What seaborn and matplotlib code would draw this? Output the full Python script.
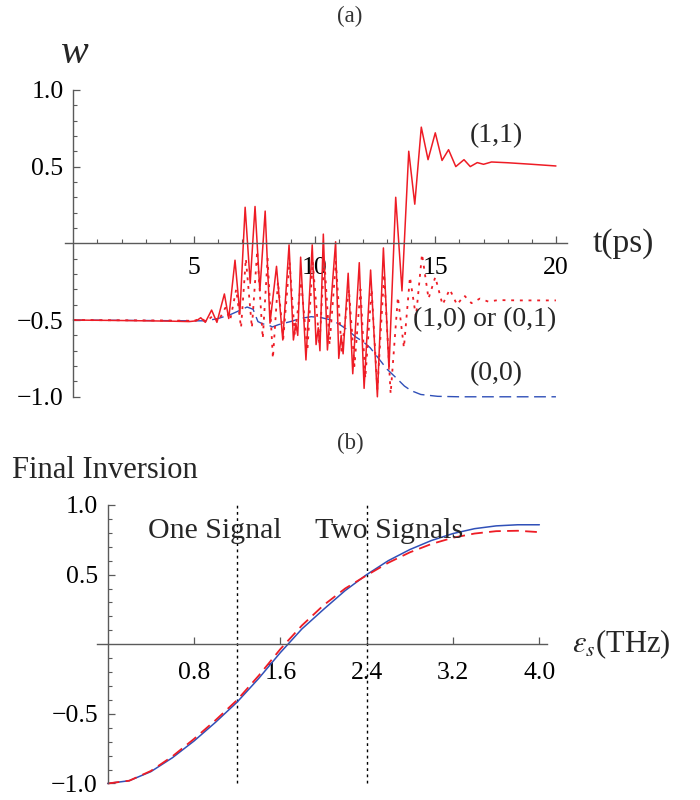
import matplotlib
matplotlib.use("Agg")
import matplotlib.pyplot as plt
import seaborn as sns
from matplotlib.ticker import FixedLocator, FixedFormatter

# ---------------- panel (a): inversion w(t) for each initial signal ----------------
t_11 = [0, 2, 4, 4.8, 5.1, 5.28, 5.47, 5.73, 5.95, 6.26, 6.44, 6.7, 6.9, 7.12, 7.33,
        7.53, 7.73, 7.95, 8.15, 8.42, 8.68, 8.94, 9.12, 9.22, 9.3, 9.42, 9.64, 9.9,
        10.06, 10.15, 10.22, 10.36, 10.53, 10.87, 11.0, 11.1, 11.18, 11.39, 11.58,
        11.85, 12.05, 12.32, 12.6, 12.85, 13.08, 13.36, 13.62, 13.9, 14.15, 14.42,
        14.7, 15.0, 15.28, 15.55, 15.85, 16.19, 16.45, 16.74, 17.0, 17.33, 18.0,
        19.0, 20.0]
w_11 = [-0.5, -0.503, -0.507, -0.51, -0.505, -0.485, -0.515, -0.435, -0.515, -0.33,
        -0.49, -0.11, -0.46, 0.235, -0.26, 0.24, -0.31, 0.21, -0.52, -0.15, -0.63,
        -0.01, -0.63, -0.52, -0.6, -0.09, -0.76, -0.01, -0.66, -0.55, -0.7, 0.06,
        -0.695, 0.01, -0.75, -0.6, -0.72, -0.195, -0.85, -0.126, -0.945, -0.174,
        -1.0, -0.03, -0.82, 0.30, -0.31, 0.60, 0.255, 0.757, 0.545, 0.72, 0.54,
        0.61, 0.50, 0.545, 0.50, 0.526, 0.515, 0.53, 0.525, 0.515, 0.504]

t_10 = [0, 4, 5.0, 5.3, 5.5, 5.8, 6.0, 6.3, 6.5, 6.75, 6.95, 7.15, 7.4, 7.62, 7.85,
        8.05, 8.27, 8.48, 8.7, 8.96, 9.18, 9.44, 9.7, 9.92, 10.2, 10.4, 10.62, 10.88,
        11.12, 11.42, 11.65, 11.9, 12.1, 12.36, 12.6, 12.88, 13.15, 13.45, 13.7,
        13.95, 14.2, 14.45, 14.72, 15.0, 15.3, 15.6, 15.9, 16.2, 16.5, 16.85, 17.2,
        17.6, 18.5, 20.0]
w_10 = [-0.5, -0.503, -0.505, -0.49, -0.51, -0.47, -0.51, -0.42, -0.50, -0.30, -0.55,
        -0.1, -0.55, -0.05, -0.62, -0.1, -0.75, -0.25, -0.62, -0.12, -0.6, -0.25,
        -0.7, -0.12, -0.66, -0.1, -0.66, -0.12, -0.7, -0.3, -0.8, -0.3, -0.88, -0.3,
        -0.95, -0.2, -0.98, -0.35, -0.68, -0.22, -0.48, -0.07, -0.36, -0.22, -0.40,
        -0.30, -0.40, -0.34, -0.39, -0.36, -0.38, -0.37, -0.372, -0.372]

t_00 = [0, 5.0, 5.5, 6.0, 6.5, 7.0, 7.2, 7.45, 7.65, 7.85, 8.05, 8.25, 8.5, 9.0, 9.4,
        9.86, 10.3, 10.7, 11.0, 11.37, 11.7, 12.0, 12.3, 12.6, 13.0, 13.4, 13.72,
        14.0, 14.4, 15.1, 16.0, 20.0]
w_00 = [-0.5, -0.505, -0.505, -0.49, -0.465, -0.43, -0.415, -0.43, -0.51, -0.525,
        -0.53, -0.545, -0.53, -0.51, -0.49, -0.478, -0.485, -0.50, -0.525, -0.565,
        -0.61, -0.64, -0.68, -0.74, -0.82, -0.88, -0.93, -0.96, -0.985, -0.997,
        -1.0, -1.0]

top_xticks = [5, 10, 15, 20]
top_yticks = [-1.0, -0.5, 0.5, 1.0]
top_ylabels = ["\u22121.0", "\u22120.5", "0.5", "1.0"]

# ---------------- panel (b): final inversion vs signal strength ----------------
eps_s = [0, 0.2, 0.4, 0.6, 0.8, 1.0, 1.2, 1.4, 1.6, 1.8, 2.0, 2.2, 2.4, 2.6, 2.8,
         3.0, 3.2, 3.4, 3.6, 3.8, 4.0]
final_blue = [-1.0, -0.98, -0.915, -0.815, -0.695, -0.56, -0.415, -0.245, -0.06,
              0.11, 0.25, 0.385, 0.50, 0.60, 0.68, 0.745, 0.795, 0.83, 0.85, 0.858,
              0.858]
final_red = [-1.0, -0.98, -0.91, -0.805, -0.68, -0.545, -0.40, -0.225, -0.035,
             0.135, 0.28, 0.40, 0.495, 0.585, 0.66, 0.72, 0.765, 0.795, 0.812,
             0.815, 0.805]
signal_edges = [1.2, 2.4]
bot_xticks = [0.8, 1.6, 2.4, 3.2, 4.0]
bot_xlabels = ["0.8", "1.6", "2.4", "3.2", "4.0"]

RED = "#ee1c25"
BLUE = "#3050b8"
AXIS = "#5a5a5a"

sns.set_theme(style="ticks")
plt.rcParams["font.family"] = ["Liberation Serif", "DejaVu Serif"]
plt.rcParams["mathtext.fontset"] = "stix"
plt.rcParams["axes.unicode_minus"] = True

fig = plt.figure(figsize=(7, 8), dpi=100)


def style_axes(ax, xlim, ylim, xmajor, xlabels, xminor, ymajor, ylabels, yminor,
               xpad, ypad):
    ax.set_xlim(*xlim)
    ax.set_ylim(*ylim)
    for side in ("top", "right"):
        ax.spines[side].set_visible(False)
    ax.spines["left"].set_position(("data", 0))
    ax.spines["bottom"].set_position(("data", 0))
    ax.spines["left"].set_bounds(-1, 1)
    for side in ("left", "bottom"):
        ax.spines[side].set_color(AXIS)
        ax.spines[side].set_linewidth(1.0)
    ax.xaxis.set_major_locator(FixedLocator(xmajor))
    ax.xaxis.set_major_formatter(FixedFormatter(xlabels))
    ax.yaxis.set_major_locator(FixedLocator(ymajor))
    ax.yaxis.set_major_formatter(FixedFormatter(ylabels))
    ax.xaxis.set_minor_locator(FixedLocator(xminor))
    ax.yaxis.set_minor_locator(FixedLocator(yminor))
    ax.tick_params(axis="both", which="major", direction="in", length=5,
                   width=0.9, color=AXIS, labelsize=18.5, labelcolor="black")
    ax.tick_params(axis="both", which="minor", direction="in", length=3,
                   width=0.8, color=AXIS)
    ax.tick_params(axis="x", which="major", pad=xpad)
    ax.tick_params(axis="y", which="major", pad=ypad)
    ax.set_xlabel("")
    ax.set_ylabel("")
    ax.patch.set_alpha(0)


# ---- top panel ----
ax1 = fig.add_axes([0.0927, 0.5021, 0.717, 0.3875])
sns.lineplot(x=t_00, y=w_00, ax=ax1, color=BLUE, lw=1.0, estimator=None,
             sort=False, linestyle=(0, (8.5, 4.0)))
sns.lineplot(x=t_10, y=w_10, ax=ax1, color=RED, lw=1.3, estimator=None,
             sort=False, linestyle=(0, (1.6, 3.2)))
sns.lineplot(x=t_11, y=w_11, ax=ax1, color=RED, lw=1.1, estimator=None,
             sort=False)
yminor_top = [v / 10 for v in range(-9, 10) if v not in (-5, 0, 5)]
style_axes(ax1, (-0.35, 20.45), (-1.01, 1.01), top_xticks,
           [str(v) for v in top_xticks],
           [v for v in range(1, 20) if v % 5], top_yticks, top_ylabels,
           yminor_top, xpad=10, ypad=7)

ax1.text(17.54, 0.705, "(1,1)", fontsize=20, ha="center", va="center")
ax1.text(17.06, -0.50, "(1,0) or (0,1)", fontsize=20, ha="center", va="center")
ax1.text(17.54, -0.847, "(0,0)", fontsize=20, ha="center", va="center")
ax1.text(21.5, 0.0, "t(ps)", fontsize=24, ha="left", va="center", clip_on=False)
ax1.text(0.07, 1.242, "w", fontsize=30, style="italic", ha="center",
         va="center", clip_on=False)
fig.text(0.5, 1 - 16 / 800, "(a)", fontsize=16.5, color="#333333", ha="center",
         va="center")

# ---- bottom panel ----
ax2 = fig.add_axes([0.1384, 0.0189, 0.6429, 0.3516])
ax2.vlines(signal_edges, -1, 1, colors="black", lw=1.0,
           linestyles=[(0, (2.0, 2.5))])
sns.lineplot(x=eps_s, y=final_blue, ax=ax2, color=BLUE, lw=1.1, estimator=None,
             sort=False)
sns.lineplot(x=eps_s, y=final_red, ax=ax2, color=RED, lw=1.3, estimator=None,
             sort=False, linestyle=(0, (6.5, 3.5)))
yminor_bot = [v / 10 for v in range(-9, 10) if v not in (-5, 0, 5)]
style_axes(ax2, (-0.1, 4.07), (-1.01, 1.01), bot_xticks, bot_xlabels, [],
           top_yticks, top_ylabels, yminor_bot, xpad=13, ypad=7)

ax2.text(0.99, 0.81, "One Signal", fontsize=21.5, ha="center", va="center")
ax2.text(1.92, 0.81, "Two Signals", fontsize=21.5, ha="left", va="center")
ax2.text(4.30, 0.0, r"$\varepsilon_s$(THz)", fontsize=22, ha="left",
         va="center", clip_on=False)
fig.text(0.5, 1 - 443 / 800, "(b)", fontsize=16.5, color="#333333", ha="center",
         va="center")
fig.text(12 / 700, 1 - 471 / 800, "Final Inversion", fontsize=22, ha="left",
         va="center")

fig.savefig("out.png", dpi=100)
